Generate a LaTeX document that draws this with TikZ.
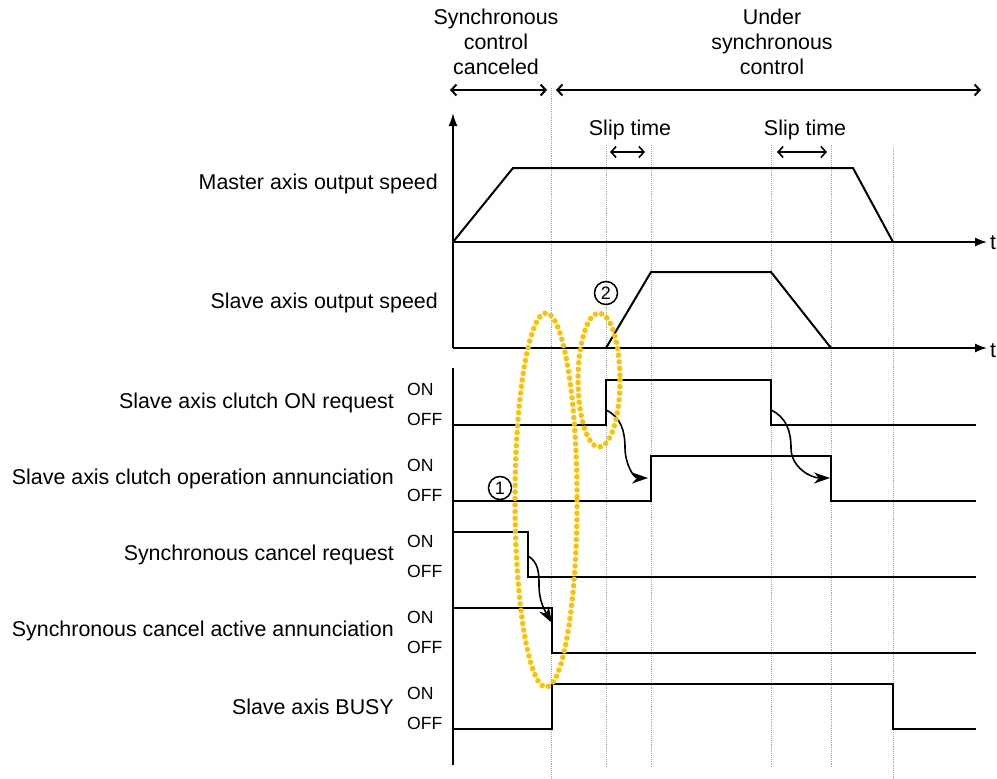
\documentclass[tikz,border=0pt]{standalone}
\usepackage{fontspec}
\setmainfont{Liberation Sans}
\usetikzlibrary{arrows.meta}
\definecolor{ringgold}{RGB}{255,192,0}

\begin{document}
\begin{tikzpicture}[x=1pt, y=-1pt,
	sig/.style={line width=2pt},
	guide/.style={gray!70, densely dotted, line width=0.9pt},
	cause/.style={line width=1.6pt, -{Stealth[length=16pt, width=11pt, inset=5pt]}},
	span/.style={line width=2pt, {Straight Barb[length=5pt, width=11pt]}-{Straight Barb[length=5pt, width=11pt]}},
	timeaxis/.style={line width=1.6pt, -{Latex[length=12pt, width=9pt]}},
	lbl/.style={font=\fontsize{21.4}{25}\selectfont, inner sep=0pt},
	lvl/.style={font=\fontsize{17.6}{20}\selectfont, inner sep=0pt, anchor=west},
	ring/.style={draw=ringgold, line width=5.5pt, line cap=round, dash pattern=on 0pt off 6.6pt},
	num/.style={circle, draw, line width=1.5pt, inner sep=0pt, minimum size=23pt, font=\fontsize{18}{18}\selectfont}]
	\useasboundingbox (0,0) rectangle (997,779);

	% phases
	\node [lbl, align=center] (canceled) at (496,42) {Synchronous\\control\\canceled};
	\node [lbl, align=center] (under) at (772,42) {Under\\synchronous\\control};
	\draw [span] (450,90) -- (547,90);
	\draw [span] (556,90) -- (981,90);

	% time marks
	\foreach \x/\top/\bot in {551/88/779, 606/145/767, 651/145/767, 771/145/767, 831/145/767, 893/147/779}
		\draw [guide] (\x,\top) -- (\x,\bot);

	\node [lbl] (slip1) at (630,130) {Slip time};
	\node [lbl] (slip2) at (805,130) {Slip time};
	\draw [span, line width=1.6pt] (610,152) -- (645,152);
	\draw [span, line width=1.6pt] (777,152) -- (827,152);

	% axes
	\draw [line width=1.6pt, -{Latex[length=13pt, width=9pt]}] (453,348) -- (453,113);
	\draw [line width=1.6pt] (453,368) -- (453,765);
	\draw [timeaxis] (453,242) -- (987,242);
	\draw [timeaxis] (453,348) -- (987,348);
	\node [lbl, anchor=west] (t1) at (990,243) {t};
	\node [lbl, anchor=west] (t2) at (990,351) {t};

	% speeds
	\node [lbl, anchor=east] (master) at (438,184) {Master axis output speed};
	\node [lbl, anchor=east] (slave) at (438,303) {Slave axis output speed};
	\draw [sig] (453,242) -- (513,168) -- (853,168) -- (893,242);
	\draw [sig] (606,348) -- (651,272) -- (771,272) -- (831,348);

	% signals
	\node [lbl, anchor=east] (clreq) at (394,403) {Slave axis clutch ON request};
	\node [lbl, anchor=east] (clop) at (394,479) {Slave axis clutch operation annunciation};
	\node [lbl, anchor=east] (screq) at (394,555) {Synchronous cancel request};
	\node [lbl, anchor=east] (scact) at (394,631) {Synchronous cancel active annunciation};
	\node [lbl, anchor=east] (busy) at (394,707) {Slave axis BUSY};
	\foreach \k in {0,...,4} {
		\node [lvl] (on\k) at (407,389+76*\k) {ON};
		\node [lvl] (off\k) at (407,419+76*\k) {OFF};
	}

	\draw [sig] (453,425) -- (606,425) -- (606,380) -- (771,380) -- (771,425) -- (976,425);
	\draw [sig] (453,501) -- (651,501) -- (651,456) -- (831,456) -- (831,501) -- (976,501);
	\draw [sig] (453,532) -- (528,532) -- (528,577) -- (976,577);
	\draw [sig] (453,608) -- (552,608) -- (552,653) -- (976,653);
	\draw [sig] (453,729) -- (552,729) -- (552,684) -- (893,684) -- (893,729) -- (976,729);

	\draw [cause] (528,556) to [out=-30, in=90] (539,585) to [out=-90, in=120] (552,623);
	\draw [cause] (606,410) to [out=-25, in=90] (625,448) to [out=-90, in=180] (648,478);
	\draw [cause] (771,410) to [out=-25, in=90] (791,448) to [out=-90, in=180] (830,478);

	% marks
	\draw [ring] (546,500) ellipse [x radius=31, y radius=187];
	\draw [ring] (599,380) ellipse [x radius=21, y radius=67];
	\node [num] (n1) at (500,488) {1};
	\node [num] (n2) at (606,293) {2};
\end{tikzpicture}
\end{document}
